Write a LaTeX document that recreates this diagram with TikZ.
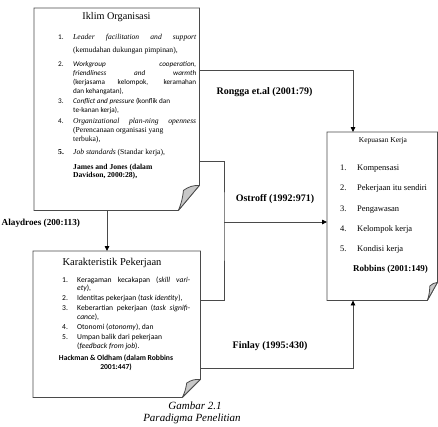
\documentclass[tikz,border=0pt]{standalone}
\usepackage{fontspec}
\setmainfont{Liberation Serif}
\newfontfamily\calib{Carlito}
\usetikzlibrary{arrows.meta}
\definecolor{lineclr}{HTML}{4A4A4A}
\definecolor{foldclr}{HTML}{C8C8C8}
\newcommand\tmsA{\fontsize{7.6pt}{9pt}\selectfont}
\newcommand\clbA{\calib\fontsize{7.2pt}{9pt}\selectfont}
\newcommand\clbB{\calib\fontsize{7.6pt}{9pt}\selectfont}
\newcommand\foldedbox[3]{%
  \draw[ln, fill=white] (#1.north west) -- (#1.north east) -- ([yshift=#3pt]#1.south east)
     -- ([xshift=-#2pt]#1.south east) -- (#1.south west) -- cycle;
  \draw[ln, fill=foldclr, line join=round] ([xshift=-#2pt]#1.south east)
     to[bend right=8] ([xshift={-0.76*#2pt}, yshift={0.8*#3pt}]#1.south east)
     to[bend left=18] ([yshift=#3pt]#1.south east) -- cycle;
}
\begin{document}
\begin{tikzpicture}[x=1pt,y=-1pt,
  ln/.style={draw=lineclr, line width=0.8pt},
  arr/.style={ln, -{Triangle[length=5pt,width=4.5pt,color=black]}},
  boxn/.style={draw=none, inner sep=0pt, anchor=north west},
  t/.style={inner sep=0pt, anchor=mid west},
  c/.style={inner sep=0pt, anchor=mid},
  lab/.style={inner sep=0pt, font=\fontsize{10pt}{12pt}\selectfont\bfseries},
  tm/.style={t, font=\tmsA},
  ca/.style={t, font=\clbA},
  cb/.style={t, font=\clbB},
  rt/.style={t, font=\fontsize{8.5pt}{10pt}\selectfont}
]
\useasboundingbox (0,0) rectangle (438,426);

% boxes
\node[boxn, minimum width=165pt, minimum height=202pt] (tb) at (34,8) {};
\node[boxn, minimum width=167pt, minimum height=146pt] (bb) at (33,251) {};
\node[boxn, minimum width=110pt, minimum height=168pt] (rb) at (327,132) {};
\foldedbox{tb}{21}{25}
\foldedbox{bb}{18}{18}
\foldedbox{rb}{10}{18}

% connectors
\draw[arr] (tb.east |- 0,70) -| (353,0 |- rb.north);
\coordinate (jn) at (224,222);
\draw[ln] (tb.east |- 0,161) -| (jn) |- (bb.east |- 0,300);
\draw[arr] (jn) -- (rb.west |- jn);
\draw[arr] (bb.east |- 0,368) -| (353,0 |- rb.south);
\draw[arr] (tb.south -| 107,0) -- (bb.north -| 107,0);

% labels
\node[lab] (l1) at (264.5,92) {Rongga et.al (2001:79)};
\node[lab] (l2) at (275,199) {Ostroff (1992:971)};
\node[lab] (l3) at (270,346) {Finlay (1995:430)};
\node[lab, anchor=west, font=\fontsize{9.2pt}{11pt}\selectfont\bfseries] (l4) at (1.5,223) {Alaydroes (200:113)};

% top box text
\node[c, font=\fontsize{10.2pt}{12pt}\selectfont] (tt) at (116.5,17) {Iklim Organisasi};
\node[ca] (n1) at (58,37) {1.};
\node[tm] (a1) at (73,37) {\makebox[123pt][s]{\itshape Leader facilitation and support}};
\node[tm] (a2) at (73,50) {(kemudahan dukungan pimpinan),};
\node[ca] (n2) at (58,64) {2.};
\node[ca] (a3) at (73,64) {\makebox[123pt][s]{\itshape Workgroup cooperation,}};
\node[ca] (a4) at (73,73) {\makebox[123pt][s]{\itshape friendliness and warmth}};
\node[ca] (a5) at (73,82) {\makebox[123pt][s]{(kerjasama kelompok, keramahan}};
\node[ca] (a6) at (73,91) {dan kehangatan),};
\node[ca] (n3) at (58,101) {3.};
\node[ca] (a7) at (73,101) {\textit{Conflict and pressure} (konflik dan};
\node[ca] (a8) at (73,110) {te-kanan kerja),};
\node[ca] (n4) at (58,121) {4.};
\node[tm] (a9) at (73,121) {\makebox[123pt][s]{\itshape Organizational plan-ning openness}};
\node[tm] (a10) at (73,130) {(Perencanaan organisasi yang};
\node[tm] (a11) at (73,139) {terbuka),};
\node[tm, font=\tmsA\bfseries] (n5) at (58,152) {5.};
\node[tm] (a12) at (73,152) {\textit{Job standards} (Standar kerja),};
\node[tm, font=\tmsA\bfseries] (a13) at (73,167) {James and Jones (dalam};
\node[tm, font=\tmsA\bfseries] (a14) at (73,175) {Davidson, 2000:28),};

% bottom box text
\node[c, font=\fontsize{10.5pt}{12pt}\selectfont] (bt) at (112,263) {Karakteristik Pekerjaan};
\node[cb] (m1) at (62,280) {1.};
\node[cb] (b1) at (77,280) {\makebox[113pt][s]{Keragaman kecakapan (\textit{skill vari-}}};
\node[cb] (b2) at (77,288) {\textit{ety}),};
\node[cb] (m2) at (62,298) {2.};
\node[cb] (b3) at (77,298) {Identitas pekerjaan (\textit{task identity}),};
\node[cb] (m3) at (62,308) {3.};
\node[cb] (b4) at (77,308) {\makebox[113pt][s]{Keberartian pekerjaan (\textit{task signifi-}}};
\node[cb] (b5) at (77,317) {\textit{cance}),};
\node[cb] (m4) at (62,327) {4.};
\node[cb] (b6) at (77,327) {Otonomi (\textit{otonomy}), dan};
\node[cb] (m5) at (62,337) {5.};
\node[cb] (b7) at (77,337) {Umpan balik dari pekerjaan};
\node[cb] (b8) at (77,346) {(\textit{feedback from job}).};
\node[c, font=\clbB\bfseries] (b9) at (116,358) {Hackman \& Oldham (dalam Robbins};
\node[c, font=\clbB\bfseries] (b10) at (116,367) {2001:447)};

% right box text
\node[c, font=\fontsize{7.5pt}{9pt}\selectfont] (rt0) at (383,140) {Kepuasan Kerja};
\node[rt] (k1) at (340,168) {1.};
\node[rt] (r1) at (357,168) {Kompensasi};
\node[rt] (k2) at (340,188) {2.};
\node[rt] (r2) at (357,188) {Pekerjaan itu sendiri};
\node[rt] (k3) at (340,209) {3.};
\node[rt] (r3) at (357,209) {Pengawasan};
\node[rt] (k4) at (340,229) {4.};
\node[rt] (r4) at (357,229) {Kelompok kerja};
\node[rt] (k5) at (340,249) {5.};
\node[rt] (r5) at (357,249) {Kondisi kerja};
\node[t, font=\fontsize{9pt}{10pt}\selectfont\bfseries] (r6) at (353,269) {Robbins (2001:149)};

% caption
\node[c, font=\fontsize{11pt}{13pt}\selectfont\itshape] (cap1) at (195,407) {Gambar 2.1};
\node[c, font=\fontsize{11pt}{13pt}\selectfont\itshape] (cap2) at (192,419) {Paradigma Penelitian};
\end{tikzpicture}
\end{document}
